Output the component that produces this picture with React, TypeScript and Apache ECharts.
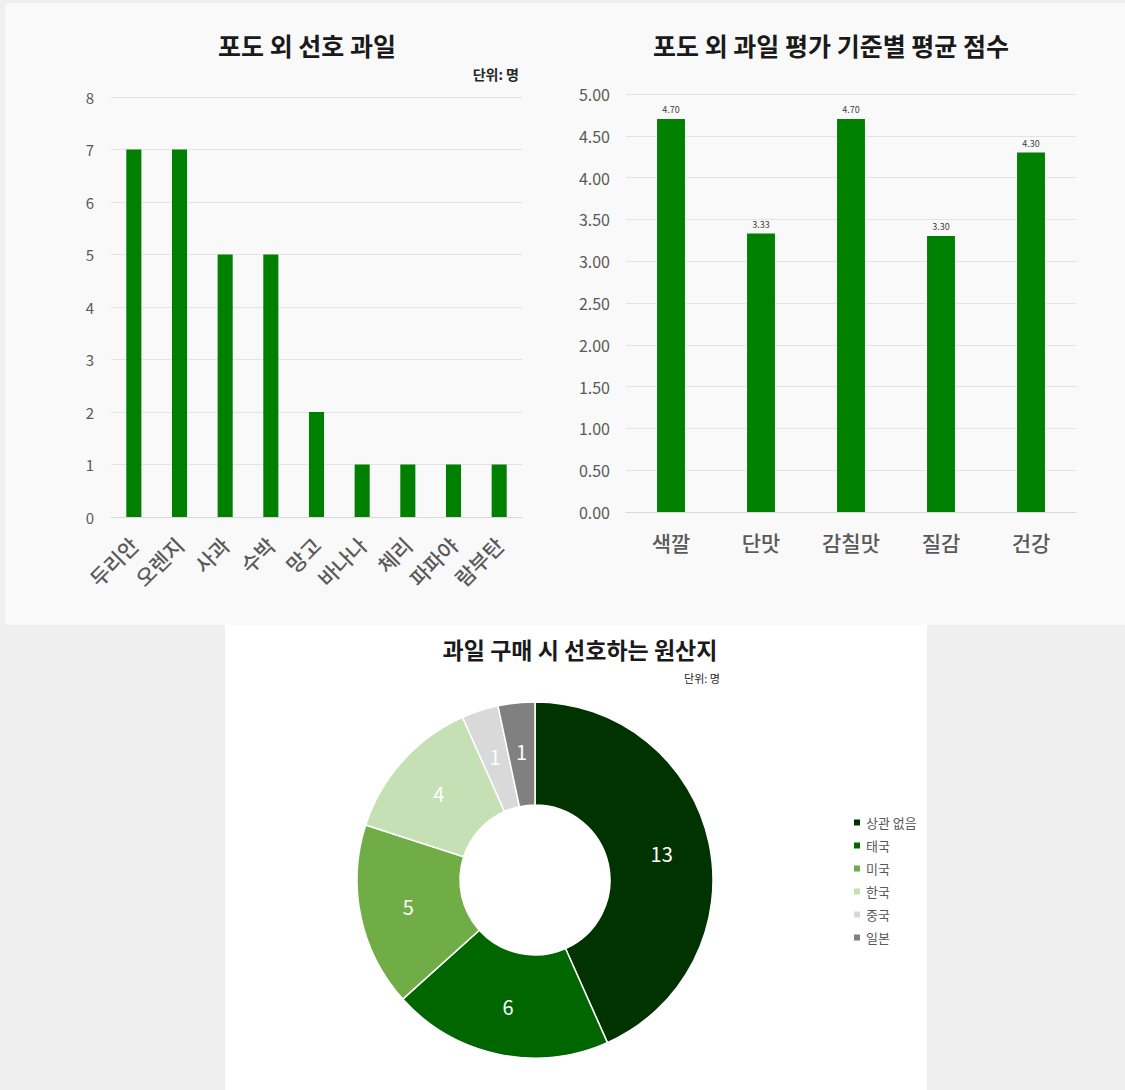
import React, { useEffect, useRef } from "react";
import * as echarts from "echarts";

const fruitCategories = ["두리안", "오렌지", "사과", "수박", "망고", "바나나", "체리", "파파야", "람부탄"];
const fruitCounts = [7, 7, 5, 5, 2, 1, 1, 1, 1];
const fruitTicks = { min: 0, max: 8, interval: 1 };

const criteriaCategories = ["색깔", "단맛", "감칠맛", "질감", "건강"];
const criteriaScores = [4.7, 3.33, 4.7, 3.3, 4.3];
const scoreTicks = { min: 0, max: 5, interval: 0.5 };

const originNames = ["상관 없음", "태국", "미국", "한국", "중국", "일본"];
const originCounts = [13, 6, 5, 4, 1, 1];
const originColors = ["#003300", "#006600", "#70ad47", "#c5e0b4", "#d9d9d9", "#808080"];

const FONT = "'Noto Sans CJK KR', 'Noto Sans', sans-serif";
const GREEN = "#008000";

export default function App() {
  const ref = useRef<HTMLDivElement>(null);
  useEffect(() => {
    document.body.style.margin = "0";
    const chart = echarts.init(ref.current!, undefined, { renderer: "svg" });
    chart.setOption({
      animation: false,
      backgroundColor: "#efefef",
      textStyle: { fontFamily: FONT },
      graphic: [
        { type: "rect", z: -10, shape: { x: 5, y: 3, width: 1120, height: 622 }, style: { fill: "#f9f9f9" } },
        { type: "rect", z: -10, shape: { x: 225, y: 625, width: 702, height: 465 }, style: { fill: "#ffffff" } },
      ],
      title: [
        { text: "포도 외 선호 과일", left: 302, top: 27, textAlign: "center", textStyle: { fontSize: 25, fontWeight: "bold", color: "#1a1a1a", fontFamily: FONT } },
        { text: "단위: 명", left: 514, top: 62, textAlign: "right", textStyle: { fontSize: 14, fontWeight: "bold", color: "#262626", fontFamily: FONT } },
        { text: "포도 외 과일 평가 기준별 평균 점수", left: 826, top: 27, textAlign: "center", textStyle: { fontSize: 25, fontWeight: "bold", color: "#1a1a1a", fontFamily: FONT } },
        { text: "과일 구매 시 선호하는 원산지", left: 575, top: 632, textAlign: "center", textStyle: { fontSize: 23, fontWeight: "bold", color: "#1a1a1a", fontFamily: FONT } },
        { text: "단위: 명", left: 715, top: 667, textAlign: "right", textStyle: { fontSize: 11, fontWeight: "normal", color: "#262626", fontFamily: FONT } },
      ],
      grid: [
        { left: 111, top: 97, width: 411, height: 420 },
        { left: 626, top: 94, width: 450, height: 418 },
      ],
      xAxis: [
        {
          gridIndex: 0, type: "category", data: fruitCategories,
          axisTick: { show: false },
          axisLine: { lineStyle: { color: "#d9d9d9" } },
          axisLabel: { interval: 0, rotate: 45, fontSize: 21, fontWeight: 500, color: "#595959", margin: 24, fontFamily: FONT },
        },
        {
          gridIndex: 1, type: "category", data: criteriaCategories,
          axisTick: { show: false },
          axisLine: { lineStyle: { color: "#d9d9d9" } },
          axisLabel: { interval: 0, fontSize: 21, fontWeight: 500, color: "#595959", margin: 19, fontFamily: FONT },
        },
      ],
      yAxis: [
        {
          gridIndex: 0, type: "value", ...fruitTicks,
          axisLine: { show: false }, axisTick: { show: false },
          axisLabel: { fontSize: 15, color: "#595959", margin: 17 },
          splitLine: { lineStyle: { color: "#e3e3e3" } },
        },
        {
          gridIndex: 1, type: "value", ...scoreTicks,
          axisLine: { show: false }, axisTick: { show: false },
          axisLabel: { fontSize: 16, color: "#595959", margin: 16, formatter: (v: number) => v.toFixed(2) },
          splitLine: { lineStyle: { color: "#e3e3e3" } },
        },
      ],
      legend: {
        orient: "vertical", left: 847, top: 811, icon: "rect", itemWidth: 8, itemHeight: 8, itemGap: 10,
        textStyle: { fontSize: 13, color: "#595959", fontFamily: FONT },
        data: originNames,
      },
      series: [
        {
          type: "bar", xAxisIndex: 0, yAxisIndex: 0, data: fruitCounts, barWidth: "33%",
          itemStyle: { color: GREEN },
        },
        {
          type: "bar", xAxisIndex: 1, yAxisIndex: 1, data: criteriaScores, barWidth: "31%",
          itemStyle: { color: GREEN },
          label: { show: true, position: "top", fontSize: 9, color: "#404040", distance: 5, formatter: (p: any) => Number(p.value).toFixed(2) },
        },
        {
          type: "pie", center: [535, 880], radius: [75, 178], startAngle: 90, clockwise: true,
          data: originNames.map((n, i) => ({ name: n, value: originCounts[i], itemStyle: { color: originColors[i] } })),
          itemStyle: { borderColor: "#ffffff", borderWidth: 1.5 },
          label: { show: true, position: "inside", color: "#ffffff", fontSize: 20, formatter: "{c}", fontFamily: FONT },
          labelLine: { show: false },
          emphasis: { disabled: true },
        },
      ],
    });
    return () => chart.dispose();
  }, []);
  return <div ref={ref} style={{ width: 1125, height: 1090 }} />;
}
